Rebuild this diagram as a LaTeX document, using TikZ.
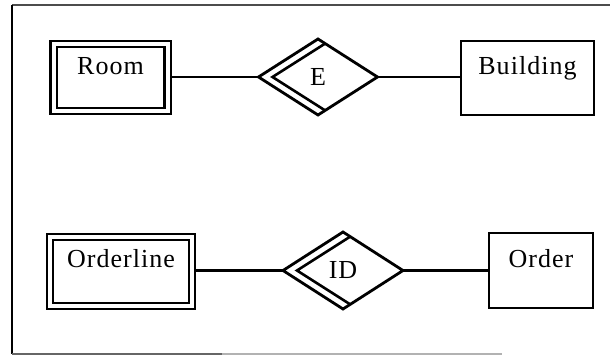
\documentclass[tikz,border=0pt]{standalone}
\usepackage{fontspec}
\setmainfont{Liberation Serif}[LetterSpace=4]
\usetikzlibrary{shapes.geometric,calc,backgrounds}
\tikzset{
  entity/.style={draw, line width=2.6pt, inner sep=0pt, outer sep=0pt},
  weak entity/.style={entity, line width=2.2pt, double, double distance=4pt},
  relation/.style={draw, diamond, line width=2.8pt, inner sep=0pt, outer sep=0pt, fill=white},
  link/.style={line width=2.2pt},
  weak side/.style={line width=2.6pt, line join=miter}
}
\begin{document}
\begin{tikzpicture}[x=1pt,y=-1pt,font=\fontsize{26}{30}\selectfont]
\useasboundingbox (0,0) rectangle (610,355);
% scanned frame edges
\draw[line width=1.3pt, black!70] (12,5) -- (610,5);
\draw[line width=1.5pt] (12,5) -- (12,354);
\draw[line width=1.3pt, black!60] (12,354) -- (222,354);
\draw[line width=1.3pt, black!30] (222,354) -- (502,354);

\node[weak entity, minimum width=114pt, text height=31pt, text depth=36pt] (Room) at (110.5,77.5) {Room};
\node[relation, minimum width=119pt, minimum height=76pt] (E) at (318,77) {E};
\node[entity, minimum width=133pt, text height=34pt, text depth=40pt] (Building) at (527.5,78) {Building};

\node[weak entity, minimum width=142pt, text height=31pt, text depth=38pt] (Orderline) at (121,271.5) {Orderline};
\node[relation, minimum width=120pt, minimum height=77pt] (ID) at (343,270.5) {ID};
\node[entity, minimum width=104pt, text height=35pt, text depth=40pt] (Order) at (541,270.5) {Order};

\draw[weak side] ($(E.north)!0.12!(E.east)$) -- ([xshift=14pt]E.west) -- ($(E.south)!0.12!(E.east)$);
\draw[weak side] ($(ID.north)!0.12!(ID.east)$) -- ([xshift=14pt]ID.west) -- ($(ID.south)!0.12!(ID.east)$);

\begin{scope}[on background layer]
\draw[link] (E.west) -- (E.west -| Room.east);
\draw[link] (E.east) -- (E.east -| Building.west);
\draw[link] (ID.west) -- (ID.west -| Orderline.east);
\draw[link] (ID.east) -- (ID.east -| Order.west);
\end{scope}
\end{tikzpicture}
\end{document}
